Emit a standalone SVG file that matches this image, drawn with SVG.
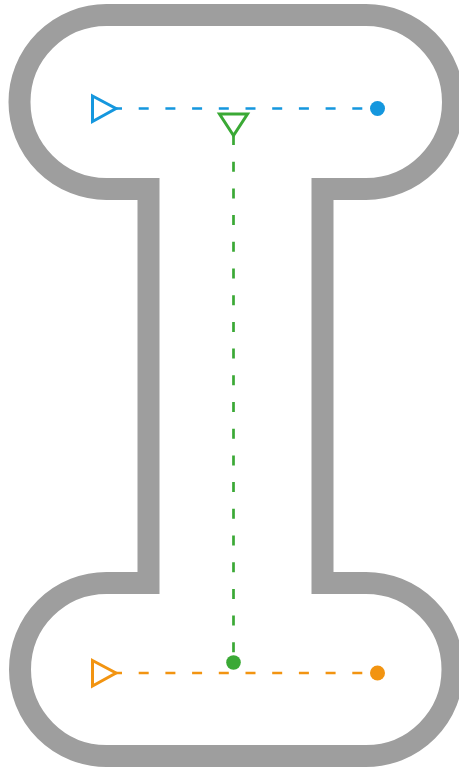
<svg xmlns="http://www.w3.org/2000/svg" width="459" height="769" viewBox="0 0 459 769">
  <style>
    .frame { fill: none; stroke: #9e9e9e; stroke-width: 22; stroke-linejoin: miter; }
    .conn { fill: none; stroke-width: 2.7; stroke-dasharray: 10 16.7; }
    .tri { fill: #ffffff; stroke-width: 3; stroke-linejoin: miter; }
    .blue { stroke: #1597de; }
    .green { stroke: #3aa935; }
    .orange { stroke: #f29411; }
  </style>
  <rect width="459" height="769" fill="#ffffff"/>
  <g id="frame">
    <path class="frame" d="M 106.5 15 H 366 A 87 87 0 0 1 366 189 H 322.5 V 583 H 366 A 86.5 86.5 0 0 1 366 756 H 106.5 A 86.5 86.5 0 0 1 106.5 583 H 148.5 V 189 H 106.5 A 87 87 0 0 1 106.5 15 Z"/>
  </g>
  <g id="connectors">
    <line class="conn blue" x1="112" y1="108.5" x2="368" y2="108.5"/>
    <line class="conn green" x1="233.5" y1="135" x2="233.5" y2="656"/>
    <line class="conn orange" x1="112" y1="673" x2="368" y2="673"/>
  </g>
  <g id="blue-start"><polygon class="tri blue" points="92.5,96 116,108.5 92.5,121.5"/></g>
  <g id="blue-end"><circle cx="377.5" cy="108.5" r="7.5" fill="#1597de"/></g>
  <g id="green-start"><polygon class="tri green" points="219.5,114 247.5,114 233.5,135.5"/></g>
  <g id="green-end"><circle cx="233.5" cy="662.5" r="7.3" fill="#3aa935"/></g>
  <g id="orange-start"><polygon class="tri orange" points="92.5,660.5 116,673 92.5,686"/></g>
  <g id="orange-end"><circle cx="377.5" cy="673" r="7.5" fill="#f29411"/></g>
</svg>
